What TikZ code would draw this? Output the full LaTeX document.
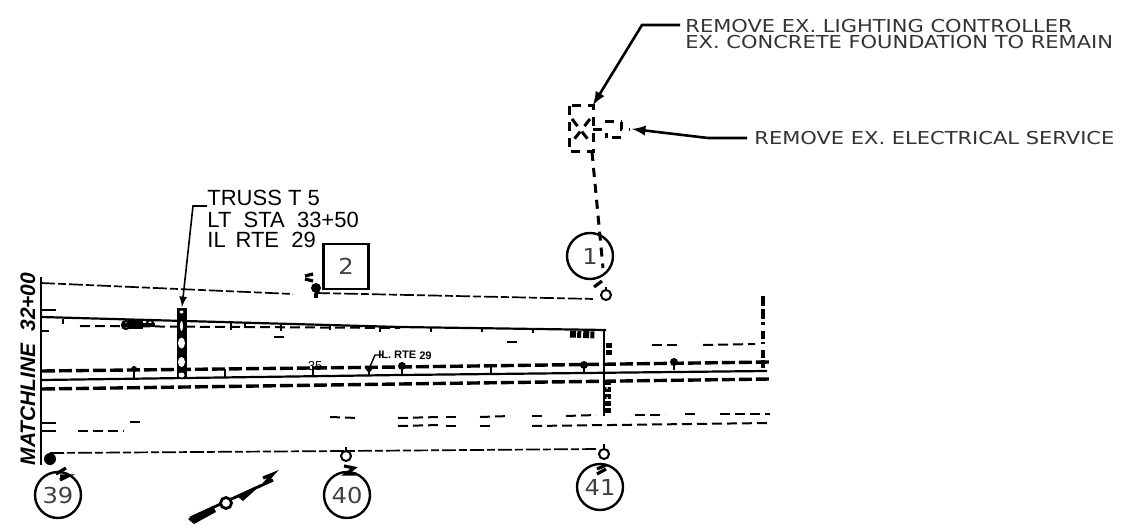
\documentclass[tikz,border=0pt]{standalone}
\usepackage{fontspec}
\setmainfont{DejaVu Sans}
\newfontfamily\notefont[FakeStretch=1.18]{DejaVu Sans}
\newfontfamily\numberfont[FakeStretch=1.1]{DejaVu Sans}
\newfontfamily\handfont{Liberation Sans}
\usetikzlibrary{calc}

\tikzset{
	note/.style = {inner sep = 0pt, font = \notefont\fontsize{8.9}{8.9}\selectfont, anchor = west, text = black!80},
	handnote/.style = {inner sep = 0pt, font = \handfont\fontsize{11}{11}\selectfont, anchor = west},
	station/.style = {draw, circle, line width = 1.2pt, minimum size = 23pt, inner sep = 0pt, font = \numberfont\fontsize{11}{11}\selectfont, text = black!75},
	tag/.style = {draw, line width = 1.1pt, minimum size = 22.5pt, inner sep = 0pt, font = \numberfont\fontsize{11}{11}\selectfont, text = black!75},
	leader/.style = {line width = 1.3pt},
	road/.style = {line width = 1.1pt},
	kerb/.style = {line width = 1.7pt, dash pattern = on 6.5pt off 2pt},
	edge/.style = {line width = .85pt, dash pattern = on 7pt off 1.5pt on 4pt off 1.5pt},
	scrap/.style = {line width = 1pt, dash pattern = on 5pt off 2.5pt},
	removed/.style = {line width = 1.5pt, dash pattern = on 4.5pt off 3.5pt},
	blob/.style = {line width = 1.6pt},
	bud/.style = {line width = 1.1pt}
}

\begin{document}
\begin{tikzpicture}[x = .5pt, y = -.5pt]
		\useasboundingbox (0,0) rectangle (1128,529);
		
		\coordinate (Foundation) at (593,105);
		\coordinate (Service) at (632,129);
		\coordinate (Truss) at (182,307);
		
		\node[note] (RemoveController) at (685,26) {REMOVE EX. LIGHTING CONTROLLER};
		\node[note] (ConcreteRemain) at (685,42) {EX. CONCRETE FOUNDATION TO REMAIN};
		\node[note] (RemoveService) at (754,138) {REMOVE EX. ELECTRICAL SERVICE};
		
		\draw[leader, -latex] ($(RemoveController.west) + (-5,-1)$) -- ++(-38,0) -- (Foundation);
		\draw[leader, -latex] ($(RemoveService.west) + (-7,0)$) -- ++(-39,0) -- (Service);
		
		\draw[removed] (569,106) rectangle (593,152);
		\draw[removed] (572,119) -- (590,142);
		\draw[removed] (590,119) -- (572,142);
		\draw[removed] (593,130) -- (606,130) -- (606,138);
		\draw[removed] (605,122) -- (622,122);
		\draw[removed] (621,122) -- (621,130) -- (630,130);
		\draw[removed] (612,138) -- (624,138);
		\draw[removed] (592,152) -- (603,268);
		\draw[blob] (594,287) -- (602,281);
		
		\node[station] (StationOne) at (590,256) {1};
		\node[station] (StationThirtyNine) at (58,495) {39};
		\node[station] (StationForty) at (347,495) {40};
		\node[station] (StationFortyOne) at (600,487) {41};
		\node[tag] (TagTwo) at (346,266.5) {2};
		
		\draw[line width = 1pt] (606,295) circle (5);
		\draw[line width = 1pt] (346,456) circle (5);
		\draw[line width = 1pt] (604,454) circle (5);
		\fill (316,288) circle (5);
		\fill (50,459) circle (6);
		
		\node[handnote] (TrussName) at (207,198) {TRUSS\ T\ 5};
		\node[handnote] (TrussStation) at (207,220) {LT\ \ STA\ \ 33+50};
		\node[handnote] (TrussRoute) at (207,240) {IL\ \,RTE\ \ 29};
		\draw[line width = .8pt, -latex] (TrussName.west |- 0,206) -- ++(-14,0) -- (Truss);
		
		\node[rotate = 90, inner sep = 0pt, font = \handfont\bfseries\itshape\fontsize{10.5}{10.5}\selectfont] (Matchline) at (28,369) {MATCHLINE\ \ 32+00};
		\draw[line width = 1.3pt] (41,277) -- (41,465);
		
		\draw[edge] (41,283) -- (293,294);
		\draw[edge] (316,293) -- (595,299);
		\draw[road] (41,317) -- (400,327) -- (606,330);
		\draw[scrap] (80,326) -- (400,328);
		\draw[line width = 3.5pt, dash pattern = on 3pt off .6pt on 2pt off 1pt] (570,334) -- (596,335);
		\draw[kerb] (42,371) -- (400,367) -- (770,362);
		\draw[road] (42,380) -- (400,375) -- (767,371);
		\draw[kerb] (42,389) -- (400,384) -- (770,379);
		\draw[edge] (50,453) -- (345,451) -- (598,449);
		
		\draw[scrap] (330,417) -- (358,418);
		\draw[scrap] (398,418) -- (440,417);
		\draw[scrap] (398,426) -- (440,425);
		\draw[scrap] (446,417) -- (458,417);
		\draw[scrap] (446,426) -- (458,426);
		\draw[scrap] (480,417) -- (510,416);
		\draw[scrap] (480,426) -- (492,426);
		\draw[scrap] (532,416) -- (544,416);
		\draw[scrap] (532,426) -- (770,423);
		\draw[scrap] (566,416) -- (596,415);
		\draw[scrap] (635,415) -- (665,415);
		\draw[scrap] (685,414) -- (698,414);
		\draw[scrap] (720,414) -- (770,414);
		\draw[scrap] (78,431) -- (124,431);
		\draw[scrap] (130,422) -- (142,422);
		\draw[scrap] (652,345) -- (680,345);
		\draw[scrap] (703,345) -- (755,344);
		\draw[scrap] (507,342) -- (520,342);
		\draw[scrap] (274,337) -- (286,337);
		\draw[bud] (42,310) -- (56,310);
		\draw[bud] (42,331) -- (49,331);
		\draw[bud] (42,423) -- (56,423);
		\draw[bud] (42,431) -- (56,431);
		
		\draw[bud] (63,319) -- ++(0,5);
		\draw[bud] (231,323) -- ++(0,7);
		\draw[bud] (245,323) -- ++(0,5);
		\draw[bud] (281,323) -- ++(0,8);
		\draw[bud] (330,325) -- ++(0,5);
		\draw[bud] (380,326) -- ++(0,6);
		\draw[bud] (431,327) -- ++(0,5);
		\draw[bud] (482,328) -- ++(0,4);
		\draw[bud] (533,329) -- ++(0,4);
		\draw[bud] (134,369) -- ++(0,9);
		\draw[bud] (225,369) -- ++(0,8);
		\draw[bud] (313,366) -- ++(0,11);
		\draw[bud] (369,366) -- ++(0,9);
		\draw[bud] (402,364) -- ++(0,10);
		\draw[bud] (491,364) -- ++(0,9);
		\draw[bud] (584,362) -- ++(0,10);
		\draw[bud] (674,360) -- ++(0,10);
		\fill (134,369) circle (3);
		\fill (402,366) circle (4);
		\fill (584,365) circle (4);
		\fill (674,362) circle (4);
		\fill (369,369) circle (3);
		
		\draw[line width = .7pt] (369,369) -- (375,355) -- (382,355);
		\node[inner sep = 0pt, rotate = -1, font = \handfont\bfseries\fontsize{5.5}{5.5}\selectfont] (RouteMark) at (405,355) {IL. RTE 29};
		\node[inner sep = 0pt, font = \handfont\fontsize{6.5}{6.5}\selectfont] (StationMark) at (315,366) {35};
		
		\fill (177,308) rectangle (187,378);
		\fill[white] (181.5,326) ellipse (1.5 and 5);
		\fill[white] (181.5,343) ellipse (3.5 and 5.5);
		\fill[white] (181.5,362) ellipse (3.5 and 5);
		\fill[white] (181.5,375) ellipse (3 and 2.5);
		\fill[white] (181.5,312) ellipse (2 and 1.5);
		
		\draw[blob] (122,325) -- (155,325);
		\fill (128,320) rectangle (143,329);
		\draw[bud] (126,325) circle (4);
		\draw[bud] (150,323) circle (3);
		
		\draw[road] (604,330) -- (604,416);
		\draw[line width = 2.6pt, dash pattern = on 2.5pt off 1pt] (609,343) -- (609,355);
		\draw[line width = 4pt, dash pattern = on 2.5pt off 1pt] (607,380) -- (607,415);
		\fill[white] (607,388) circle (1);
		\fill[white] (607,398) circle (1);
		\draw[line width = 1.8pt, dash pattern = on 5pt off 1.5pt] (763,296) -- (763,325);
		\draw[line width = 1.8pt, dash pattern = on 4pt off 1.5pt] (763,331) -- (763,344);
		\draw[line width = 1.8pt, dash pattern = on 4pt off 1pt] (763,350) -- (763,371);
		
		\draw[blob] (305,276) -- (313,274);
		\draw[blob] (305,279) -- (313,281);
		\draw[blob] (316,293) -- (316,298);
		\draw[blob] (56,474) -- (66,468);
		\draw[blob] (60,476) -- (68,476) -- (60,480);
		\draw[blob] (344,466) -- (354,468) -- (346,474) -- (356,474);
		\draw[blob] (597,469) -- (606,465);
		\draw[blob] (597,474) -- (606,469);
		\draw[bud] (606,290) -- (606,287);
		\draw[bud] (346,451) -- (346,447);
		\draw[bud] (604,449) -- (604,444);
		
		\draw[line width = 1.4pt] (190,518) -- (262,485);
		\fill (188,519) -- (205,510) -- (213,506) -- (216,512) -- (194,524) -- cycle;
		\fill (237,496) -- (262,484) -- (243,501) -- cycle;
		\draw[line width = 1.4pt, fill = white] (226,503) circle (5.5);
		\draw[line width = 1.6pt] (263,478) -- (273,474) -- (264,484) -- (273,480);
	\end{tikzpicture}
\end{document}
